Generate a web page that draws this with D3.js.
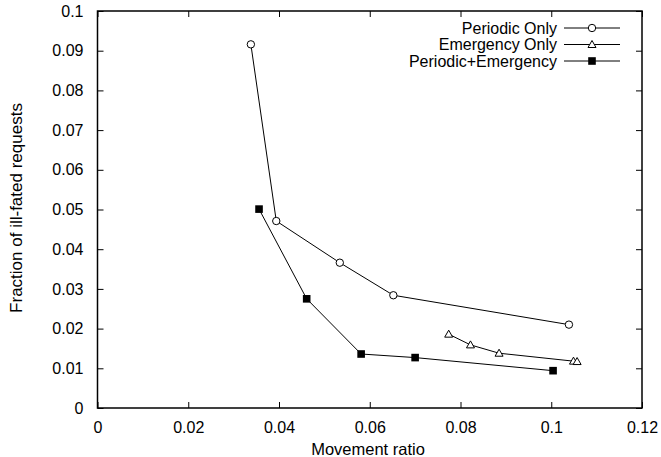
<!DOCTYPE html>
<html>
<head>
<meta charset="utf-8">
<script src="https://cdn.jsdelivr.net/npm/d3@7"></script>
<style>
body { margin: 0; background: #fff; }
text { font-family: "Liberation Sans", Arial, sans-serif; font-size: 16px; fill: #000; }
</style>
</head>
<body>
<svg id="chart" width="661" height="457"></svg>
<script>
// values
var periodicX = [0.0338, 0.0394, 0.0534, 0.0652, 0.1039];
var periodicY = [0.0916, 0.0471, 0.0366, 0.0284, 0.0210];

var emergencyX = [0.0774, 0.0822, 0.0885, 0.1049, 0.1057];
var emergencyY = [0.0186, 0.0159, 0.0138, 0.0118, 0.0117];

var bothX = [0.0356, 0.0461, 0.0581, 0.0700, 0.1004];
var bothY = [0.0501, 0.0275, 0.0136, 0.0127, 0.0094];

var xTicks = [0, 0.02, 0.04, 0.06, 0.08, 0.1, 0.12];
var yTicks = [0, 0.01, 0.02, 0.03, 0.04, 0.05, 0.06, 0.07, 0.08, 0.09, 0.1];

var seriesNames = ["Periodic Only", "Emergency Only", "Periodic+Emergency"];
var seriesMarks = ["circle", "triangle", "square"];

var plotLeft = 97.5, plotRight = 642, plotTop = 11, plotBottom = 408;

var svg = d3.select("#chart");

var x = d3.scaleLinear().domain([0, 0.12]).range([plotLeft, plotRight]);
var y = d3.scaleLinear().domain([0, 0.1]).range([plotBottom, plotTop]);

// frame
svg.append("rect")
    .attr("x", plotLeft).attr("y", plotTop)
    .attr("width", plotRight - plotLeft).attr("height", plotBottom - plotTop)
    .attr("fill", "none").attr("stroke", "#000").attr("stroke-width", 1.5);

// ticks on all four sides, pointing inwards
function fmt(d) { return d === 0 ? "0" : String(+d.toFixed(2)); }
function noDomain(g) { g.select(".domain").remove(); }

svg.append("g").attr("transform", "translate(0," + plotBottom + ")")
    .call(d3.axisBottom(x).tickValues(xTicks).tickFormat(fmt).tickSizeInner(-6).tickSizeOuter(0).tickPadding(14))
    .call(noDomain);
svg.append("g").attr("transform", "translate(0," + plotTop + ")")
    .call(d3.axisTop(x).tickValues(xTicks).tickFormat("").tickSizeInner(-6).tickSizeOuter(0))
    .call(noDomain);
svg.append("g").attr("transform", "translate(" + plotLeft + ",0)")
    .call(d3.axisLeft(y).tickValues(yTicks).tickFormat(fmt).tickSizeInner(-6).tickSizeOuter(0).tickPadding(14))
    .call(noDomain);
svg.append("g").attr("transform", "translate(" + plotRight + ",0)")
    .call(d3.axisRight(y).tickValues(yTicks).tickFormat("").tickSizeInner(-6).tickSizeOuter(0))
    .call(noDomain);

svg.selectAll(".tick text").style("font-family", "'Liberation Sans', Arial, sans-serif").style("font-size", "16px");
svg.selectAll(".tick line").attr("stroke", "#000");

// axis titles
svg.append("text").attr("x", 368).attr("y", 455)
    .attr("text-anchor", "middle").style("font-size", "16.5px").text("Movement ratio");
svg.append("text").attr("transform", "translate(21.5,208) rotate(-90)")
    .attr("text-anchor", "middle").style("font-size", "17px").text("Fraction of ill-fated requests");

var line = d3.line().x(function (d) { return x(d[0]); }).y(function (d) { return y(d[1]); });

function drawMark(g, kind, cx, cy) {
    if (kind === "circle") {
        g.append("circle").attr("cx", cx).attr("cy", cy).attr("r", 3.7)
            .attr("fill", "#fff").attr("stroke", "#000").attr("stroke-width", 1);
    } else if (kind === "triangle") {
        g.append("path")
            .attr("d", "M" + cx + "," + (cy - 4) + "L" + (cx + 4) + "," + (cy + 3) + "L" + (cx - 4) + "," + (cy + 3) + "Z")
            .attr("fill", "#fff").attr("stroke", "#000").attr("stroke-width", 1);
    } else {
        g.append("rect").attr("x", cx - 3.8).attr("y", cy - 3.8).attr("width", 7.6).attr("height", 7.6)
            .attr("fill", "#000");
    }
}

var allX = [periodicX, emergencyX, bothX];
var allY = [periodicY, emergencyY, bothY];

allX.forEach(function (xs, i) {
    var pts = xs.map(function (v, j) { return [v, allY[i][j]]; });
    var g = svg.append("g");
    g.append("path").datum(pts).attr("d", line)
        .attr("fill", "none").attr("stroke", "#000").attr("stroke-width", 1);
    pts.forEach(function (p) { drawMark(g, seriesMarks[i], x(p[0]), y(p[1])); });
});

// legend
var legendY = [28, 44.5, 61];
seriesNames.forEach(function (name, i) {
    var g = svg.append("g");
    g.append("text").attr("x", 557).attr("y", legendY[i] + 5.5)
        .attr("text-anchor", "end").text(name);
    g.append("line").attr("x1", 564).attr("x2", 620)
        .attr("y1", legendY[i]).attr("y2", legendY[i])
        .attr("stroke", "#000").attr("stroke-width", 1);
    drawMark(g, seriesMarks[i], 592, legendY[i]);
});
</script>
</body>
</html>
